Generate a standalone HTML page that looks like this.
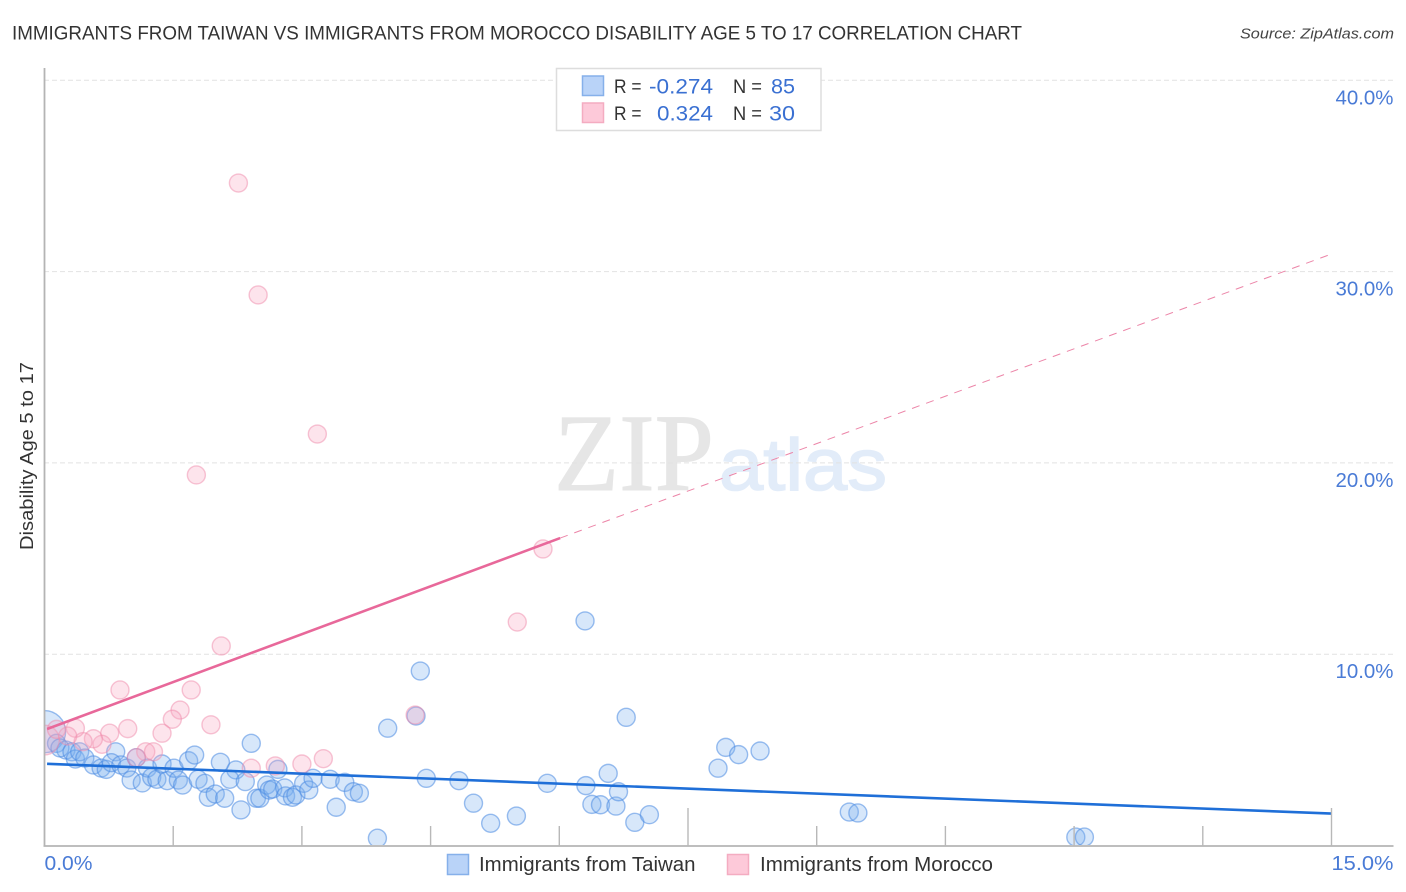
<!DOCTYPE html>
<html lang="en">
<head>
<meta charset="utf-8">
<title>Immigrants from Taiwan vs Immigrants from Morocco Disability Age 5 to 17 Correlation Chart</title>
<style>
html,body{margin:0;padding:0;background:#fff;}
svg{display:block;font-family:"Liberation Sans",sans-serif;}
</style>
</head>
<body>
<svg id="chart" xmlns="http://www.w3.org/2000/svg" width="1406" height="892" viewBox="0 0 1406 892">
  <defs>
    <clipPath id="plot-clip"><rect x="44" y="60" width="1349" height="785"></rect></clipPath>
  </defs>
  <rect x="0" y="0" width="1406" height="892" fill="#ffffff"></rect>
  <text x="12" y="39.5" font-size="19.5" fill="#333333" textLength="1010" lengthAdjust="spacingAndGlyphs">IMMIGRANTS FROM TAIWAN VS IMMIGRANTS FROM MOROCCO DISABILITY AGE 5 TO 17 CORRELATION CHART</text>
  <text x="1394" y="38.5" font-size="15" font-style="italic" fill="#444444" text-anchor="end" textLength="154" lengthAdjust="spacingAndGlyphs">Source: ZipAtlas.com</text>

  <g>
    <text x="554" y="490" font-family="'Liberation Serif',serif" font-size="110" fill="#e6e6e6" stroke="#e6e6e6" stroke-width="1" textLength="160" lengthAdjust="spacingAndGlyphs">ZIP</text>
    <text x="719" y="490" font-size="73" fill="#e2ecf9" stroke="#e2ecf9" stroke-width="1.5" textLength="168" lengthAdjust="spacingAndGlyphs">atlas</text>
  </g>

  <g id="grid"></g>
  <g id="points-taiwan" clip-path="url(#plot-clip)"></g>
  <g id="points-morocco" clip-path="url(#plot-clip)"></g>
  <g id="trends"></g>
  <g id="axes"></g>

  <text transform="translate(33,456) rotate(-90)" font-size="18.5" fill="#333333" text-anchor="middle" textLength="188" lengthAdjust="spacingAndGlyphs">Disability Age 5 to 17</text>

  <g>
    <rect x="556.5" y="68.5" width="264.5" height="62" fill="#ffffff" stroke="#dddddd" stroke-width="1.5"></rect>
    <rect x="582.5" y="76" width="21" height="19.5" fill="#b9d3f8" stroke="#86b0ea" stroke-width="1.5"></rect>
    <rect x="582.5" y="103" width="21" height="19.5" fill="#fdc9d9" stroke="#f4acc1" stroke-width="1.5"></rect>
    <text x="614" y="93" font-size="19" fill="#333333" textLength="27.5" lengthAdjust="spacingAndGlyphs">R =</text>
    <text x="649" y="93.5" font-size="21" fill="#3a70d2" textLength="64" lengthAdjust="spacingAndGlyphs">-0.274</text>
    <text x="733" y="93" font-size="19" fill="#333333" textLength="29" lengthAdjust="spacingAndGlyphs">N =</text>
    <text x="771" y="93.5" font-size="21" fill="#3a70d2" textLength="24" lengthAdjust="spacingAndGlyphs">85</text>
    <text x="614" y="120" font-size="19" fill="#333333" textLength="27.5" lengthAdjust="spacingAndGlyphs">R =</text>
    <text x="657" y="120.5" font-size="21" fill="#3a70d2" textLength="56" lengthAdjust="spacingAndGlyphs">0.324</text>
    <text x="733" y="120" font-size="19" fill="#333333" textLength="29" lengthAdjust="spacingAndGlyphs">N =</text>
    <text x="769" y="120.5" font-size="21" fill="#3a70d2" textLength="26" lengthAdjust="spacingAndGlyphs">30</text>
  </g>

  <g>
    <rect x="447.5" y="854.5" width="21" height="20" fill="#b9d3f8" stroke="#86b0ea" stroke-width="1.5"></rect>
    <text x="479" y="871" font-size="20" fill="#333333" textLength="216.5" lengthAdjust="spacingAndGlyphs">Immigrants from Taiwan</text>
    <rect x="727.5" y="854.5" width="21" height="20" fill="#fdc9d9" stroke="#f4acc1" stroke-width="1.5"></rect>
    <text x="760" y="871" font-size="20" fill="#333333" textLength="233" lengthAdjust="spacingAndGlyphs">Immigrants from Morocco</text>
  </g>
</svg>

<script>
const yTickValues = [10, 20, 30, 40];
const yTickLabels = ["10.0%", "20.0%", "30.0%", "40.0%"];
const xTickValues = [0, 1.5, 3, 4.5, 6, 7.5, 9, 10.5, 12, 13.5, 15];
const xMajorTicks = [7.5, 15];
const xEdgeValues = [0, 15];
const xEdgeLabels = ["0.0%", "15.0%"];

const taiwanX = [0,.14,.25,.18,.32,.36,.41,.47,.57,.66,.72,.83,.78,.89,.96,1.01,1.14,1.07,1.20,1.25,1.31,1.37,1.43,1.51,1.56,1.61,1.68,1.75,1.79,1.87,1.91,1.99,2.10,2.05,2.23,2.16,2.34,2.29,2.41,2.47,2.51,2.59,2.62,2.72,2.66,2.80,2.81,2.89,2.93,3.02,3.08,3.13,3.33,3.50,3.40,3.60,3.67,3.88,4.00,4.33,4.45,4.83,5.00,5.20,5.50,5.86,6.30,6.78,6.31,6.57,6.38,6.48,6.66,6.69,6.88,7.05,7.85,7.94,8.09,8.34,4.38,9.38,9.48,12.02,12.12];
const taiwanY = [5.95,5.34,4.99,5.10,4.90,4.52,4.90,4.57,4.21,4.05,3.98,4.90,4.33,4.21,4.05,3.42,3.27,4.59,4.05,3.57,3.46,4.26,3.39,4.04,3.42,3.16,4.43,4.73,3.46,3.25,2.52,2.69,2.47,4.35,3.95,3.46,3.34,1.86,5.34,2.47,2.47,3.16,2.90,3.98,2.95,3.01,2.59,2.52,2.64,3.25,2.90,3.51,3.46,3.30,2.00,2.81,2.73,.38,6.13,6.77,3.51,3.39,2.21,1.16,1.54,3.25,11.74,6.70,3.13,3.77,2.15,2.13,2.06,2.81,1.21,1.61,4.04,5.13,4.75,4.94,9.12,1.75,1.70,.44,.44];
const taiwanWeights = [2.35];

const moroccoX = [0,2.26,2.49,3.18,1.77,5.81,5.51,2.06,.88,1.71,1.58,1.49,1.37,1.94,.97,.76,.67,.57,.45,.36,.27,.14,1.18,1.27,1.07,2.41,2.69,3.00,3.25,4.32];
const moroccoY = [5.51,34.63,28.78,21.51,19.37,15.50,11.68,10.43,8.13,8.13,7.08,6.60,5.87,6.31,6.11,5.87,5.29,5.58,5.43,6.13,5.72,6.07,4.90,4.90,4.59,4.04,4.16,4.26,4.54,6.82];
const moroccoWeights = [1.65];

const taiwanTrendX = [0.03, 15];
const taiwanTrendY = [4.27, 1.67];
const moroccoTrendX = [0.03, 6.01];
const moroccoTrendY = [6.09, 16.07];
const moroccoExtensionX = [6.01, 15];
const moroccoExtensionY = [16.07, 30.92];

const SVG_NS = "http://www.w3.org/2000/svg";
function xScale(v){ return 44.5 + v * 85.8; }
function yScale(v){ return 845.5 - v * 19.13; }
function make(tag, attrs, parent){
  const el = document.createElementNS(SVG_NS, tag);
  for (const k in attrs) el.setAttribute(k, attrs[k]);
  parent.appendChild(el);
  return el;
}

const gridG = document.getElementById("grid");
const axesG = document.getElementById("axes");
const trendG = document.getElementById("trends");
const taiwanG = document.getElementById("points-taiwan");
const moroccoG = document.getElementById("points-morocco");

yTickValues.forEach(function(v, i){
  const line = make("line", {x1:44, x2:1393, y1:yScale(v), y2:yScale(v), stroke:"#e2e2e2", "stroke-width":1, "stroke-dasharray":"5 3"}, gridG);
  
  
  const label = make("text", {x:1393.5, y:yScale(v) + 24, "font-size":20, fill:"#4a7bd6", "text-anchor":"end", textLength:58, lengthAdjust:"spacingAndGlyphs"}, axesG);
  label.textContent = yTickLabels[i];
  
  
});

const yAxis = make("line", {x1:44.5, x2:44.5, y1:68, y2:846.5, stroke:"#b4b4b4", "stroke-width":1.8}, axesG);


const xAxis = make("line", {x1:43.5, x2:1393.5, y1:846, y2:846, stroke:"#b4b4b4", "stroke-width":1.8}, axesG);



xTickValues.forEach(function(v){
  if (v === 0) return;
  const top = xMajorTicks.indexOf(v) >= 0 ? 808 : 826;
  const tick = make("line", {x1:xScale(v), x2:xScale(v), y1:top, y2:846, stroke:"#b8b8b8", "stroke-width":1.4}, axesG);
  
  
});

xEdgeValues.forEach(function(v, i){
  const isLast = i === xEdgeValues.length - 1;
  const label = make("text", {x:isLast ? 1393.5 : xScale(v), y:870, "font-size":20, fill:"#4a7bd6", "text-anchor":isLast ? "end" : "start", textLength:isLast ? 62 : 48, lengthAdjust:"spacingAndGlyphs"}, axesG);
  label.textContent = xEdgeLabels[i];
  
  
});

taiwanX.forEach(function(v, i){
  const r = 9 * (taiwanWeights[i] || 1);
  const c = make("circle", {cx:xScale(v), cy:yScale(taiwanY[i]), r:r, fill:"#7aaeee", "fill-opacity":0.3, stroke:"#4a8ae2", "stroke-opacity":0.55, "stroke-width":1.4}, taiwanG);
  
  
});

moroccoX.forEach(function(v, i){
  const r = 9 * (moroccoWeights[i] || 1);
  const c = make("circle", {cx:xScale(v), cy:yScale(moroccoY[i]), r:r, fill:"#f8a5bf", "fill-opacity":0.3, stroke:"#f08cab", "stroke-opacity":0.5, "stroke-width":1.4}, moroccoG);
  
  
});

const extLine = make("line", {x1:xScale(moroccoExtensionX[0]), y1:yScale(moroccoExtensionY[0]), x2:xScale(moroccoExtensionX[1]), y2:yScale(moroccoExtensionY[1]), stroke:"#ec85a8", "stroke-width":1, "stroke-dasharray":"8 7"}, trendG);


const moroccoLine = make("line", {x1:xScale(moroccoTrendX[0]), y1:yScale(moroccoTrendY[0]), x2:xScale(moroccoTrendX[1]), y2:yScale(moroccoTrendY[1]), stroke:"#e8689a", "stroke-width":2.6}, trendG);


const taiwanLine = make("line", {x1:xScale(taiwanTrendX[0]), y1:yScale(taiwanTrendY[0]), x2:xScale(taiwanTrendX[1]), y2:yScale(taiwanTrendY[1]), stroke:"#1f6fd8", "stroke-width":2.6}, trendG);


</script>
</body>
</html>
